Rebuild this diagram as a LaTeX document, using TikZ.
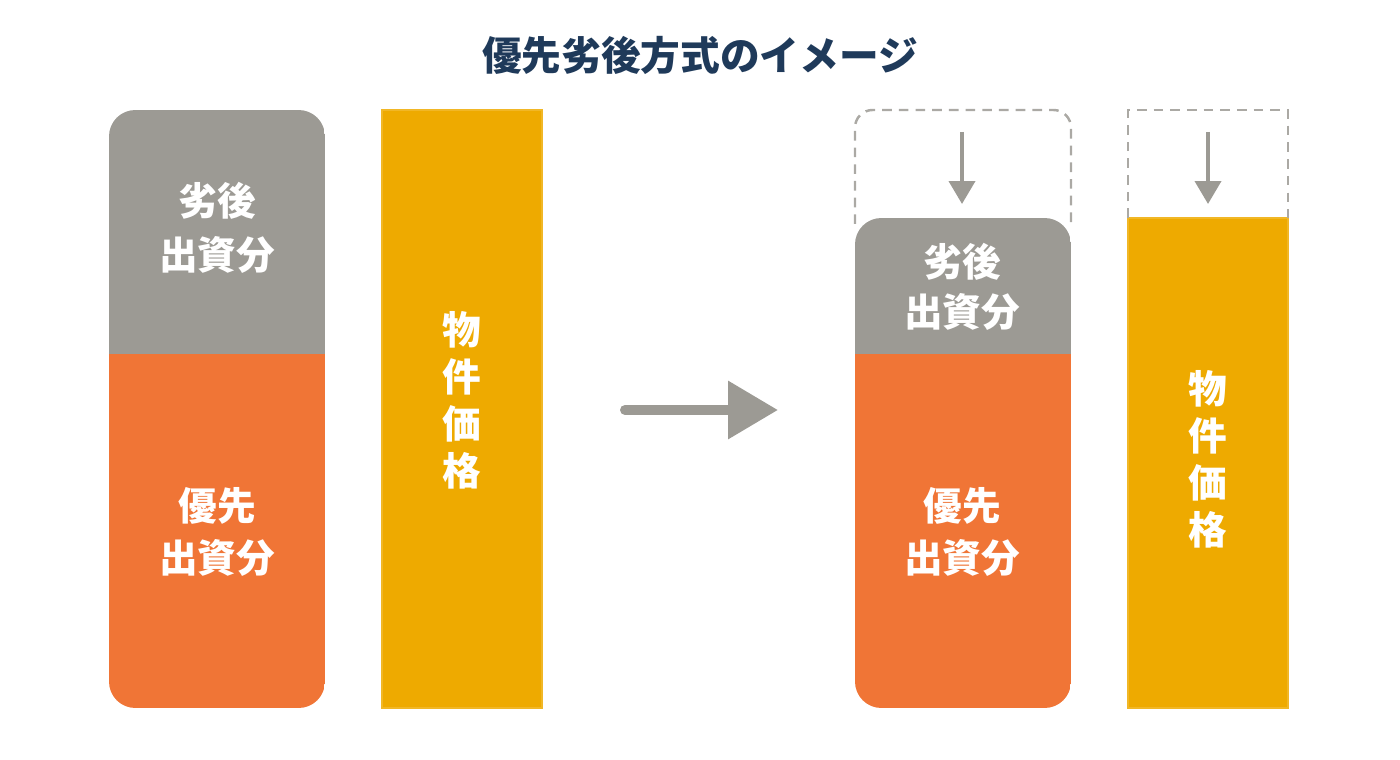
\documentclass[tikz,border=0pt]{standalone}
\usepackage{fontspec}
\newfontfamily\jpfont{Noto Sans CJK JP}
\usepackage{tikz}
\usetikzlibrary{positioning, arrows.meta}
\definecolor{shareGray}{HTML}{9C9A94}
\definecolor{shareOrange}{HTML}{F07536}
\definecolor{priceYellow}{HTML}{EEAA00}
\definecolor{titleNavy}{HTML}{1F3A5A}
\definecolor{dashGray}{HTML}{ABA9A4}

\begin{document}
\begin{tikzpicture}[
    x=0.02cm, y=-0.02cm,
    boxtext/.style={text=white, align=center, inner sep=0pt,
                    font=\jpfont\bfseries\fontsize{22}{#1}\selectfont},
    boxtext/.default=30,
    pricebar/.style={fill=priceYellow, draw=priceYellow!85!white, line width=0.6pt},
    dashbox/.style={draw=dashGray, line width=1.4pt, dash pattern=on 5.5pt off 4pt},
    bigarrow/.style={draw=shareGray, line width=0.2cm, line cap=round,
                     -{Triangle[length=1cm, width=1.12cm]}},
    droparrow/.style={draw=shareGray, line width=0.08cm,
                      -{Triangle[length=0.46cm, width=0.52cm]}}
  ]
    \useasboundingbox (0,0) rectangle (1400,760);

    % title
    \node[text=titleNavy, font=\jpfont\bfseries\fontsize{22.6}{26}\selectfont]
      (TITLE) at (700,55) {優先劣後方式のイメージ};

    % before
    \begin{scope}
      \clip[rounded corners=15] (109,110) rectangle (325,708);
      \fill[shareGray] (109,110) rectangle (325,354);
      \fill[shareOrange] (109,354) rectangle (325,708);
    \end{scope}
    \path[pricebar] (382,110) rectangle (542,708);
    \node[boxtext=31] (SUB1) at (217,228) {劣後\\出資分};
    \node[boxtext=30] (SEN1) at (217,532) {優先\\出資分};
    \node[boxtext=26.7] (PRICE1) at (462,400) {物\\件\\価\\格};

    % arrow
    \coordinate (A1) at (625,410);
    \coordinate (A2) at (778,410);
    \draw[bigarrow] (A1) -- (A2);

    % after
    \begin{scope}
      \clip[rounded corners=15] (855,218) rectangle (1071,708);
      \fill[shareGray] (855,218) rectangle (1071,354);
      \fill[shareOrange] (855,354) rectangle (1071,708);
    \end{scope}
    \path[pricebar] (1128,218) rectangle (1288,708);
    \draw[dashbox, rounded corners=10] (855,224) -- (855,110) -- (1071,110) -- (1071,224);
    \draw[dashbox] (1128,218) -- (1128,110) -- (1288,110) -- (1288,218);
    \node[boxtext=28.5] (SUB2) at (962,287) {劣後\\出資分};
    \node[boxtext=30] (SEN2) at (962,532) {優先\\出資分};
    \node[boxtext=26.7] (PRICE2) at (1208,459) {物\\件\\価\\格};

    % drop arrows
    \coordinate (D1) at (962,132);
    \coordinate (D2) at (962,204);
    \coordinate (D3) at (1208,132);
    \coordinate (D4) at (1208,204);
    \draw[droparrow] (D1) -- (D2);
    \draw[droparrow] (D3) -- (D4);
  \end{tikzpicture}
\end{document}
